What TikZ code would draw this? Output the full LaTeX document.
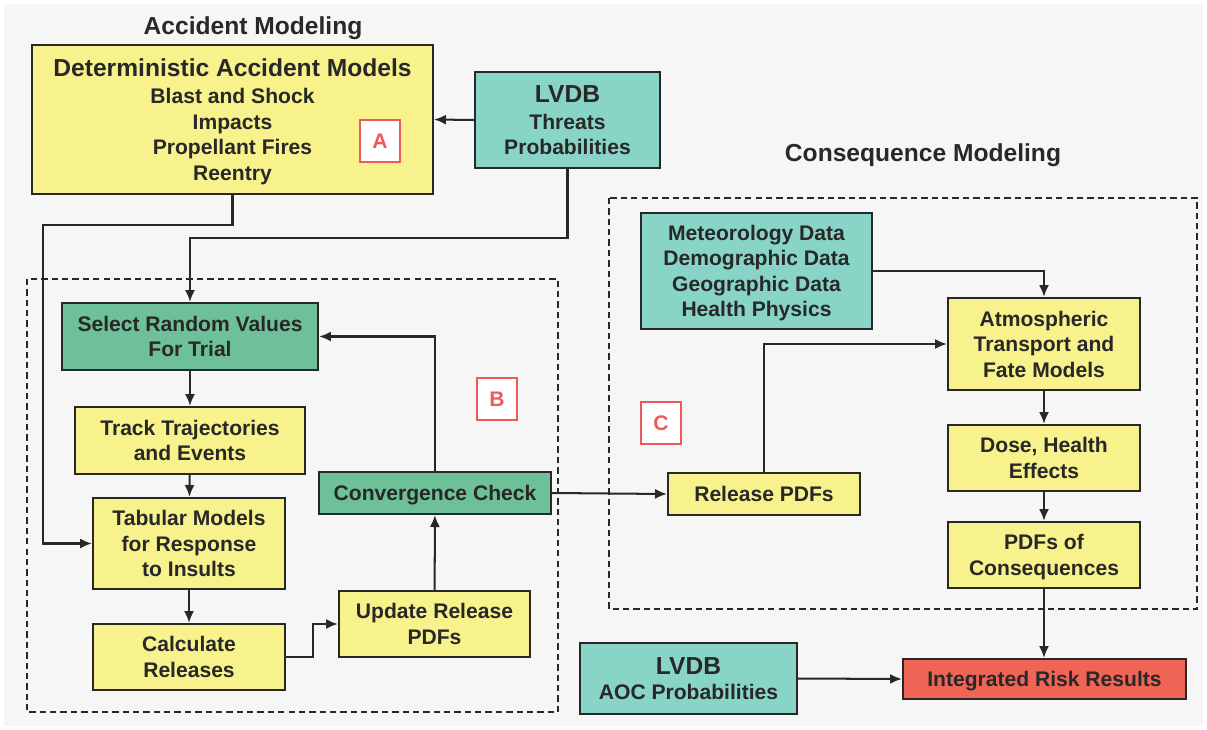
\documentclass[tikz,border=0pt]{standalone}
\usepackage{fontspec}
\setmainfont{Liberation Sans}
\usetikzlibrary{arrows.meta,calc}
\tikzset{>={Latex[length=2.4mm,width=2mm]}}

\definecolor{boxyellow}{RGB}{247,242,140}
\definecolor{boxteal}{RGB}{136,212,198}
\definecolor{boxgreen}{RGB}{110,192,152}
\definecolor{boxred}{RGB}{240,100,85}
\definecolor{tagred}{RGB}{238,90,90}
\definecolor{linegray}{RGB}{40,40,40}
\definecolor{bggray}{RGB}{246,246,246}

\tikzset{
    blk/.style={draw=linegray, line width=1.15pt, align=center, inner sep=0pt,
        text depth=0pt, text=linegray, font=\bfseries\fontsize{12}{14.5}\selectfont},
    ybox/.style={blk, fill=boxyellow},
    tbox/.style={blk, fill=boxteal},
    gbox/.style={blk, fill=boxgreen},
    rbox/.style={blk, fill=boxred},
    tag/.style={draw=tagred, fill=white, line width=0.9pt, text=tagred,
        font=\bfseries\fontsize{12}{14}\selectfont,
        minimum width=0.8cm, minimum height=0.84cm, inner sep=0pt},
    region/.style={draw=linegray, dash pattern=on 3.6pt off 2.3pt, line width=0.9pt},
    link/.style={->, draw=linegray, line width=1.15pt},
    heading/.style={text=linegray, font=\bfseries\fontsize{14}{16}\selectfont}
}
\newcommand{\headline}[1]{{\fontsize{14}{15.3}\selectfont #1}}

\begin{document}
\begin{tikzpicture}[x=0.02cm, y=-0.02cm]
    \fill[bggray] (4,4) rectangle (1203,726);
    \useasboundingbox (0,0) rectangle (1207,730);

    % Accident modeling
    \node[heading] (acctitle) at (253,28) {Accident Modeling};
    \node[ybox, minimum width=8.02cm, minimum height=2.98cm] (det) at (232.5,119.5)
        {\headline{Deterministic Accident Models}\\[1pt] Blast and Shock\\ Impacts\\ Propellant Fires\\ Reentry};
    \node[tag] (taga) at (380,141) {A};
    \node[tbox, minimum width=3.7cm, minimum height=1.92cm] (lvdbt) at (567.5,120)
        {\headline{LVDB}\\[1pt] Threats\\ Probabilities};
    \draw[link] (lvdbt.west) -- (det.east);

    % Monte Carlo loop
    \draw[region] (27,279) rectangle (558,712);
    \node[gbox, minimum width=5.12cm, minimum height=1.34cm] (select) at (190,336.5)
        {Select Random Values\\ For Trial};
    \node[ybox, minimum width=4.6cm, minimum height=1.34cm] (track) at (190,440.5)
        {Track Trajectories\\ and Events};
    \node[ybox, minimum width=3.84cm, minimum height=1.82cm] (tabular) at (189,543.5)
        {Tabular Models\\ for Response\\ to Insults};
    \node[ybox, minimum width=3.84cm, minimum height=1.32cm] (calc) at (189,657)
        {Calculate\\ Releases};
    \node[ybox, minimum width=3.82cm, minimum height=1.32cm] (update) at (434.5,624)
        {Update Release\\ PDFs};
    \node[gbox, minimum width=4.64cm, minimum height=0.84cm] (conv) at (435,493)
        {Convergence Check};
    \node[tag] (tagb) at (497,399) {B};

    \draw[link] (det.south) -- ++(0,30) -| ([xshift=-0.98cm]tabular.west) -- (tabular.west);
    \draw[link] (lvdbt.south) -- ++(0,69) -| (select.north);
    \draw[link] (select) -- (track);
    \draw[link] (track) -- (tabular);
    \draw[link] (tabular) -- (calc);
    \draw[link] (calc.east) -- ++(27,0) |- (update.west);
    \draw[link] (update) -- (conv);
    \draw[link] (conv.north) |- (select.east);

    % Consequence modeling
    \node[heading] (contitle) at (923,155) {Consequence Modeling};
    \draw[region] (609,198) rectangle (1197,609);
    \node[tbox, minimum width=4.62cm, minimum height=2.32cm] (met) at (756.5,271)
        {Meteorology Data\\ Demographic Data\\ Geographic Data\\ Health Physics};
    \node[ybox, minimum width=3.84cm, minimum height=1.84cm] (atmos) at (1044,344)
        {Atmospheric\\ Transport and\\ Fate Models};
    \node[tag] (tagc) at (661,423) {C};
    \node[ybox, minimum width=3.84cm, minimum height=0.84cm] (release) at (764,494)
        {Release PDFs};
    \node[ybox, minimum width=3.84cm, minimum height=1.32cm] (dose) at (1044,458)
        {Dose, Health\\ Effects};
    \node[ybox, minimum width=3.84cm, minimum height=1.32cm] (pdfs) at (1044,555)
        {PDFs of\\ Consequences};

    \draw[link] (conv.east) -- (release.west);
    \draw[link] (met.east) -| (atmos.north);
    \draw[link] (release.north) |- (atmos.west);
    \draw[link] (atmos) -- (dose);
    \draw[link] (dose) -- (pdfs);

    % Risk integration
    \node[tbox, minimum width=4.34cm, minimum height=1.42cm] (lvdba) at (688.5,678.5)
        {\headline{LVDB}\\ AOC Probabilities};
    \node[rbox, minimum width=5.66cm, minimum height=0.8cm] (risk) at (1044.5,679)
        {Integrated Risk Results};
    \draw[link] (pdfs.south) -- (pdfs.south |- risk.north);
    \draw[link] (lvdba.east) -- (risk.west);
\end{tikzpicture}
\end{document}
